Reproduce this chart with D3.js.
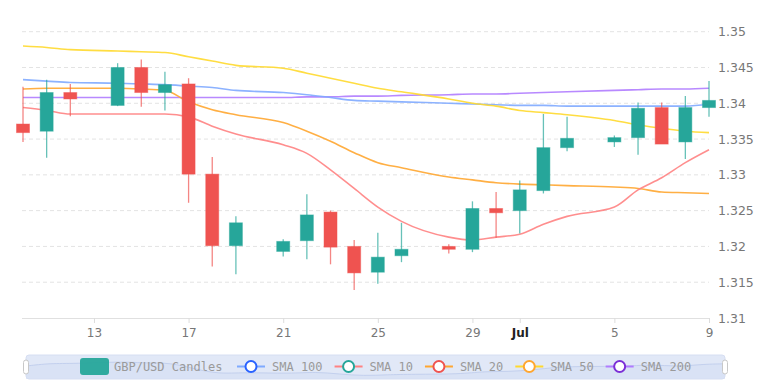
<!DOCTYPE html>
<html>
<head>
<meta charset="utf-8">
<script src="https://cdn.jsdelivr.net/npm/d3@7"></script>
<style>
body { margin: 0; background: #fff; }
svg text { font-family: "DejaVu Sans", sans-serif; }
</style>
</head>
<body>
<script>
// daily GBP/USD candles (Sundays skipped)
const dates = ['2021-06-10', '2021-06-11', '2021-06-12', '2021-06-14', '2021-06-15', '2021-06-16', '2021-06-17',
	'2021-06-18', '2021-06-19', '2021-06-21', '2021-06-22', '2021-06-23', '2021-06-24', '2021-06-25', '2021-06-26',
	'2021-06-28', '2021-06-29', '2021-06-30', '2021-07-01', '2021-07-02', '2021-07-03', '2021-07-05', '2021-07-06',
	'2021-07-07', '2021-07-08', '2021-07-09'];
const open = [1.3371, 1.3361, 1.3415, 1.3397, 1.3450, 1.3415, 1.3427, 1.3301, 1.3201, 1.3193, 1.3208, 1.3248, 1.3200,
	1.3164, 1.3187, 1.3200, 1.3196, 1.3253, 1.3250, 1.3278, 1.3338, 1.3346, 1.3352, 1.3394, 1.3346, 1.3394];
const high = [1.3423, 1.3433, 1.3427, 1.3456, 1.3461, 1.3444, 1.3435, 1.3325, 1.3242, 1.3210, 1.3273, 1.3250, 1.3209,
	1.3219, 1.3233, 1.3203, 1.3263, 1.3276, 1.3292, 1.3385, 1.3381, 1.3355, 1.3401, 1.3401, 1.3410, 1.3431];
const low = [1.3346, 1.3324, 1.3382, 1.3396, 1.3395, 1.3390, 1.3261, 1.3172, 1.3161, 1.3186, 1.3182, 1.3175, 1.3139,
	1.3148, 1.3178, 1.3190, 1.3192, 1.3212, 1.3218, 1.3274, 1.3333, 1.3339, 1.3328, 1.3343, 1.3322, 1.3381];
const close = [1.3359, 1.3415, 1.3406, 1.3450, 1.3415, 1.3426, 1.3301, 1.3201, 1.3233, 1.3207, 1.3244, 1.3199, 1.3163,
	1.3185, 1.3196, 1.3196, 1.3253, 1.3247, 1.3279, 1.3338, 1.3351, 1.3352, 1.3393, 1.3343, 1.3394, 1.3404];

const sma10 = [1.3394, 1.3390, 1.3385, 1.3385, 1.3385, 1.3385, 1.3381, 1.3368, 1.3357, 1.3342, 1.3330, 1.3307, 1.3281,
	1.3255, 1.3235, 1.3213, 1.3209, 1.3213, 1.3217, 1.3231, 1.3242, 1.3255, 1.3279, 1.3296, 1.3317, 1.3335];
const sma20 = [1.3420, 1.3421, 1.3421, 1.3421, 1.3420, 1.3418, 1.3402, 1.3391, 1.3384, 1.3373, 1.3361, 1.3347, 1.3331,
	1.3317, 1.3310, 1.3297, 1.3293, 1.3289, 1.3287, 1.3286, 1.3285, 1.3283, 1.3281, 1.3276, 1.3275, 1.3274];
const sma50 = [1.3480, 1.3478, 1.3475, 1.3473, 1.3472, 1.3471, 1.3465, 1.3459, 1.3453, 1.3449, 1.3442, 1.3435, 1.3428,
	1.3421, 1.3416, 1.3406, 1.3400, 1.3396, 1.3390, 1.3387, 1.3384, 1.3376, 1.3370, 1.3365, 1.3361, 1.3359];
const sma100 = [1.3433, 1.3431, 1.3429, 1.3428, 1.3427, 1.3426, 1.3424, 1.3422, 1.3418, 1.3415, 1.3412, 1.3408, 1.3404,
	1.3403, 1.3402, 1.3400, 1.3399, 1.3398, 1.3397, 1.3397, 1.3396, 1.3396, 1.3396, 1.3396, 1.3396, 1.3399];
const sma200 = [1.3408, 1.3408, 1.3408, 1.3408, 1.3408, 1.3408, 1.3408, 1.3408, 1.3408, 1.3408, 1.3409, 1.3409, 1.3410,
	1.3410, 1.3411, 1.3412, 1.3413, 1.3413, 1.3414, 1.3415, 1.3416, 1.3418, 1.3419, 1.3420, 1.3420, 1.3421];

const xTicks = ['2021-06-13', '2021-06-17', '2021-06-21', '2021-06-25', '2021-06-29', '2021-07-01', '2021-07-05', '2021-07-09'];
const yTicks = [1.31, 1.315, 1.32, 1.325, 1.33, 1.335, 1.34, 1.345, 1.35];

const legendNames = ['SMA 100', 'SMA 10', 'SMA 20', 'SMA 50', 'SMA 200'];

// styles
const up = '#26a69a', down = '#ef5350';
const lineStyle = {
	'SMA 10': {line: '#ff8282', dot: '#26a69a'},
	'SMA 20': {line: '#ffa630', dot: '#ef5350'},
	'SMA 50': {line: '#ffd92e', dot: '#ffa630'},
	'SMA 100': {line: '#7faaff', dot: '#2962ff'},
	'SMA 200': {line: '#b07cff', dot: '#7b2fd6'}
};

const svgSize = {width: 770, height: 381};
const plot = {left: 22, right: 709, top: 31.7, bottom: 318};

const parse = d3.timeParse('%Y-%m-%d');
const days = dates.map(parse);

const svg = d3.select('body').append('svg')
	.attr('width', svgSize.width)
	.attr('height', svgSize.height);

const x = d3.scaleTime().domain([days[0], days[days.length - 1]]).range([23, 709]);
const y = d3.scaleLinear().domain([1.31, 1.35]).range([plot.bottom, plot.top]);

// grid
svg.append('g')
	.selectAll('line')
	.data(yTicks.slice(1))
	.enter()
	.append('line')
	.attr('x1', plot.left)
	.attr('x2', plot.right)
	.attr('y1', (d) => y(d))
	.attr('y2', (d) => y(d))
	.attr('stroke', '#e3e3e3')
	.attr('stroke-dasharray', '4,3');

// y axis on the right
const yAxis = svg.append('g')
	.attr('transform', `translate(${plot.right}, 0)`)
	.call(d3.axisRight(y).tickValues(yTicks).tickSize(0).tickPadding(9).tickFormat((d) => String(+d.toFixed(3))));
yAxis.select('.domain').remove();
yAxis.selectAll('text').attr('fill', '#777').style('font-size', '12.5px');

// x axis
const xAxis = svg.append('g')
	.attr('transform', `translate(0, ${plot.bottom})`)
	.call(d3.axisBottom(x).tickValues(xTicks.map(parse)).tickSize(5).tickPadding(5)
		.tickFormat((d) => d.getDate() === 1 ? d3.timeFormat('%b')(d) : d.getDate()));
xAxis.select('.domain').attr('d', `M${plot.left},0.5H${plot.right}`).attr('stroke', '#e0e0e0');
xAxis.selectAll('.tick line').attr('stroke', '#dcdcdc');
xAxis.selectAll('text').attr('fill', '#777').style('font-size', '12px');
xAxis.selectAll('text').filter((d) => d.getDate() === 1).attr('fill', '#222').style('font-weight', 'bold');

// moving averages
const series = [['SMA 200', sma200], ['SMA 100', sma100], ['SMA 50', sma50], ['SMA 20', sma20], ['SMA 10', sma10]];
const line = d3.line().x((d, i) => x(days[i])).y((d) => y(d)).curve(d3.curveMonotoneX);
svg.append('g')
	.selectAll('path')
	.data(series)
	.enter()
	.append('path')
	.attr('d', (d) => line(d[1]))
	.attr('fill', 'none')
	.attr('stroke', (d) => lineStyle[d[0]].line)
	.attr('stroke-width', 1.6)
	.attr('stroke-opacity', 0.9);

// candles
const candles = svg.append('g')
	.selectAll('g')
	.data(days)
	.enter()
	.append('g');
const col = (d, i) => close[i] >= open[i] ? up : down;
candles.append('line')
	.attr('x1', (d) => x(d))
	.attr('x2', (d) => x(d))
	.attr('y1', (d, i) => y(high[i]))
	.attr('y2', (d, i) => y(low[i]))
	.attr('stroke', col)
	.attr('stroke-opacity', 0.7)
	.attr('stroke-width', 1.3);
candles.append('rect')
	.attr('x', (d) => x(d) - 6.5)
	.attr('width', 13)
	.attr('y', (d, i) => y(Math.max(open[i], close[i])))
	.attr('height', (d, i) => Math.max(1.5, Math.abs(y(open[i]) - y(close[i]))))
	.attr('fill', col)
	.attr('stroke', col)
	.attr('stroke-opacity', 0.45)
	.attr('stroke-width', 1);

// navigator band with legend on top
const nav = {x: 26, y: 355, w: 699, h: 24};
svg.append('rect')
	.attr('x', nav.x).attr('y', nav.y).attr('width', nav.w).attr('height', nav.h).attr('rx', 3)
	.attr('fill', '#e1e8f7').attr('stroke', '#d6def2');
const nx = d3.scaleTime().domain(x.domain()).range([nav.x, nav.x + nav.w]);
const ny = d3.scaleLinear().domain([1.31, 1.35]).range([nav.y + nav.h, nav.y + 4]);
svg.append('path')
	.attr('d', d3.area().x((d, i) => nx(days[i])).y0(nav.y + nav.h).y1((d) => ny(d)).curve(d3.curveBasis)(close))
	.attr('fill', '#d3ddf3').attr('fill-opacity', 0.6);
svg.append('path')
	.attr('d', d3.line().x((d, i) => nx(days[i])).y((d) => ny(d)).curve(d3.curveBasis)(close))
	.attr('fill', 'none').attr('stroke', '#c3d0ee').attr('stroke-width', 1);
[nav.x, nav.x + nav.w].forEach((hx) => {
	svg.append('rect')
		.attr('x', hx - 2.5).attr('y', nav.y + 5).attr('width', 5).attr('height', 14).attr('rx', 2.5)
		.attr('fill', '#fff').attr('stroke', '#c8c8c8');
});

const legend = svg.append('g').style('font-family', '"DejaVu Sans Mono", monospace').style('font-size', '12px');
legend.append('rect')
	.attr('x', 80).attr('y', 358).attr('width', 29).attr('height', 17).attr('rx', 3)
	.attr('fill', up).attr('fill-opacity', 0.95);
legend.append('text')
	.attr('x', 114).attr('y', 370.5)
	.attr('fill', '#9a9a9a')
	.style('font-family', '"DejaVu Sans Mono", monospace')
	.text('GBP/USD Candles');

let lx = 237;
legendNames.forEach((name) => {
	const s = lineStyle[name];
	legend.append('line')
		.attr('x1', lx).attr('x2', lx + 28).attr('y1', 366.5).attr('y2', 366.5)
		.attr('stroke', s.line).attr('stroke-width', 2);
	legend.append('circle')
		.attr('cx', lx + 14).attr('cy', 366.5).attr('r', 5.5)
		.attr('fill', '#fff').attr('stroke', s.dot).attr('stroke-width', 2);
	const t = legend.append('text')
		.attr('x', lx + 35).attr('y', 370.5)
		.attr('fill', '#9a9a9a')
		.style('font-family', '"DejaVu Sans Mono", monospace')
		.text(name);
	lx += 35 + t.node().getComputedTextLength() + 12;
});
</script>
</body>
</html>
